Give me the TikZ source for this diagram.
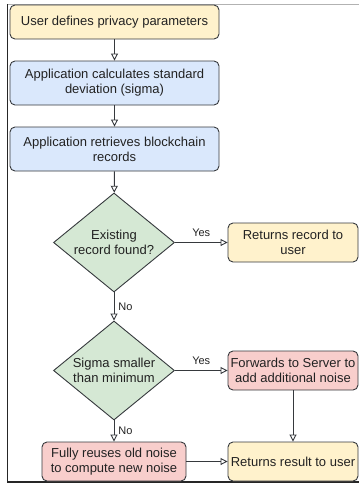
\documentclass[tikz,border=0pt]{standalone}
\usepackage{fontspec}
\setmainfont{Liberation Sans}
\usetikzlibrary{shapes.geometric,arrows.meta}
\definecolor{strokec}{HTML}{36393D}
\definecolor{yelfill}{HTML}{FFF2CC}
\definecolor{bluefill}{HTML}{DAE8FC}
\definecolor{grnfill}{HTML}{D5E8D4}
\definecolor{redfill}{HTML}{F8CECC}
\definecolor{txtc}{HTML}{222222}
\tikzset{
  box/.style={draw=strokec, line width=0.9pt, rounded corners=5pt, inner sep=0pt,
    align=center, text=txtc, font=\fontsize{13}{15}\selectfont},
  ybox/.style={box, fill=yelfill},
  bbox/.style={box, fill=bluefill},
  rbox/.style={box, fill=redfill},
  dec/.style={draw=strokec, line width=0.9pt, shape=diamond, aspect=1.22, inner sep=0pt,
    fill=grnfill, align=center, text=txtc, font=\fontsize{13}{15}\selectfont,
    minimum width=121pt, minimum height=99pt},
  conn/.style={draw=strokec, line width=0.9pt, -{Triangle[open, fill=white, length=7pt, width=7pt]}},
  lbl/.style={text=txtc, font=\fontsize{11}{13}\selectfont, inner sep=0pt}
}
\begin{document}
\begin{tikzpicture}[x=1pt,y=-1pt]
\useasboundingbox (0,0) rectangle (359,483);
% frame lines
\draw[draw=black!30, line width=0.8pt] (7,4) -- (359,4);
\draw[draw=black!85, line width=0.9pt] (7.5,4) -- (7.5,482);
\draw[draw=black!85, line width=1.2pt] (7,482) -- (359,482);

\node[ybox, minimum width=209pt, minimum height=34pt] (b1) at (114.5,22) {User defines privacy parameters};
\node[bbox, minimum width=209pt, minimum height=44pt] (b2) at (114.5,83) {Application calculates standard\\deviation (sigma)};
\node[bbox, minimum width=209pt, minimum height=44pt] (b3) at (114.5,149) {Application retrieves blockchain\\records};
\node[dec] (d1) at (114,242.5) {Existing\\record found?};
\node[ybox, minimum width=130pt, minimum height=39pt] (r1) at (293,242.5) {Returns record to\\user};
\node[dec] (d2) at (114,370.5) {Sigma smaller\\than minimum};
\node[rbox, minimum width=130pt, minimum height=39pt] (f1) at (293,370.5) {Forwards to Server to\\add additional noise};
\node[rbox, minimum width=144pt, minimum height=39pt] (u1) at (114,461.5) {Fully reuses old noise\\to compute new noise};
\node[ybox, minimum width=130pt, minimum height=39pt] (r2) at (293,461.5) {Returns result to user};

\draw[conn] (b1) -- (b2);
\draw[conn] (b2) -- (b3);
\draw[conn] (b3) -- (d1);
\draw[conn] (d1) -- node[lbl, above=5pt] (y1) {Yes} (r1);
\draw[conn] (d1) -- node[lbl, right=4pt, pos=0.5] (n1) {No} (d2);
\draw[conn] (d2) -- node[lbl, above=5pt] (y2) {Yes} (f1);
\draw[conn] (d2) -- node[lbl, right=4pt, pos=0.5] (n2) {No} (u1);
\draw[conn] (f1) -- (r2);
\draw[conn] (u1) -- (r2);
\end{tikzpicture}
\end{document}
